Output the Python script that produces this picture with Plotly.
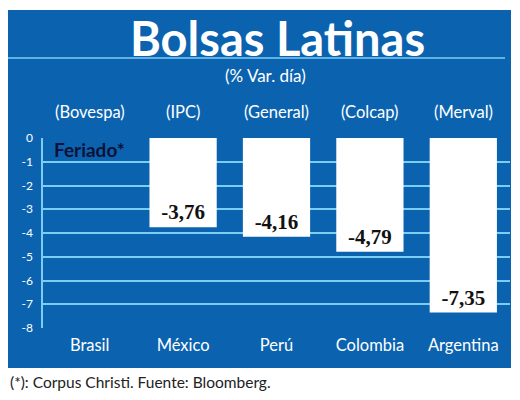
import plotly.graph_objects as go

# data
paises = ['Brasil', 'México', 'Perú', 'Colombia', 'Argentina']
indices = ['(Bovespa)', '(IPC)', '(General)', '(Colcap)', '(Merval)']
variacion = [None, -3.76, -4.16, -4.79, -7.35]
etiquetas = ['', '-3,76', '-4,16', '-4,79', '-7,35']
y_ticks = [0, -1, -2, -3, -4, -5, -6, -7, -8]

AZUL = '#0b63b0'
CELESTE = '#7ccdf3'
W, H = 520, 400
OFF = 8  # the page shows the figure shifted by the body margin

# plot area in screen pixels
L, R, T, B = 43, 510, 138, 328
ML, MR, MT, MB = L - OFF, W - (R - OFF), T - OFF, H - (B - OFF)


def px(x):
    return (x - L) / (R - L)


def py(y):
    return (B - y) / (B - T)


fig = go.Figure()
fig.add_trace(go.Bar(
    x=paises,
    y=variacion,
    width=0.72,
    marker=dict(color='white', line=dict(width=0)),
    text=etiquetas,
    textposition='inside',
    insidetextanchor='end',
    textangle=0,
    textfont=dict(family='Liberation Serif', size=21, color='#111111', weight='bold'),
    hoverinfo='skip',
))

# caja azul y linea bajo el titulo
fig.add_shape(type='rect', xref='paper', yref='paper', layer='below',
              x0=px(8), x1=px(511), y0=py(368), y1=py(10),
              fillcolor=AZUL, line=dict(width=0))
fig.add_shape(type='line', xref='paper', yref='paper',
              x0=px(8), x1=px(505), y0=py(58), y1=py(58),
              line=dict(color=CELESTE, width=1.5))

fig.add_annotation(text='Bolsas Latinas', xref='paper', yref='paper',
                   x=px(277), y=py(38), xanchor='center', yanchor='middle', showarrow=False,
                   font=dict(family='Lato', size=47, color='white', weight='bold'))
fig.add_annotation(text='(% Var. día)', xref='paper', yref='paper',
                   x=px(265), y=py(75), xanchor='center', yanchor='middle', showarrow=False,
                   font=dict(family='Lato', size=17, color='white'))
for pais, ind in zip(paises, indices):
    fig.add_annotation(text=ind, x=pais, xref='x', yref='paper', y=py(112),
                       yanchor='middle', showarrow=False,
                       font=dict(family='Lato', size=16.5, color='white'))
fig.add_annotation(text='Feriado*', x=paises[0], xref='x', y=-0.5, yref='y',
                   yanchor='middle', showarrow=False,
                   font=dict(family='Lato', size=19, color='#0d1236', weight='bold'))
fig.add_annotation(text='(*): Corpus Christi. Fuente: Bloomberg.', xref='paper', yref='paper',
                   x=px(8), y=py(382), xanchor='left', yanchor='middle', showarrow=False,
                   font=dict(family='Lato', size=15.5, color='#222222'))

fig.update_layout(
    width=W, height=H,
    margin=dict(l=ML, r=MR, t=MT, b=MB, autoexpand=False),
    paper_bgcolor='white',
    plot_bgcolor=AZUL,
    showlegend=False,
    xaxis=dict(
        showgrid=False, zeroline=False, showline=False,
        tickfont=dict(family='Lato', size=16.5, color='white'),
        ticklabelstandoff=5,
    ),
    yaxis=dict(
        range=[-8, 0],
        tickvals=y_ticks,
        ticktext=[str(v) for v in y_ticks],
        showgrid=True, gridcolor=CELESTE, gridwidth=1.5,
        zeroline=False,
        showline=True, linecolor=CELESTE, linewidth=1.5,
        tickfont=dict(family='Lato', size=12, color='white'),
        ticklabelstandoff=6,
    ),
)

fig.write_html("out.html")
